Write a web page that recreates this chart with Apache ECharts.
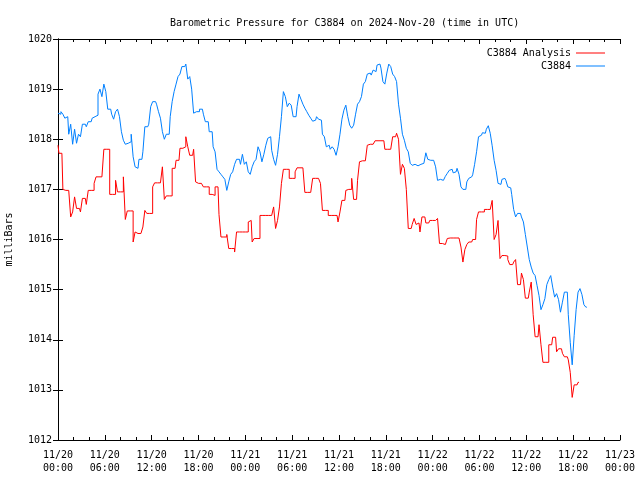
<!DOCTYPE html>
<html>
<head>
<meta charset="utf-8">
<script src="https://cdn.jsdelivr.net/npm/echarts@6/dist/echarts.min.js"></script>
<style>html,body{margin:0;padding:0;background:#fff;}#c{width:640px;height:480px;}</style>
</head>
<body>
<div id="c"></div>
<script>
// Sampling step of the traces, in hours (15 minutes), starting 2024-11-20 00:00 UTC
const STEP_H = 0.25;
const seriesNames = ['C3884 Analysis', 'C3884'];
const xTicksHours = [0, 6, 12, 18, 24, 30, 36, 42, 48, 54, 60, 66, 72];
const yTicks = [1012, 1013, 1014, 1015, 1016, 1017, 1018, 1019, 1020];

const blueVals = [1018.52,1018.5,1018.55,1018.5,1018.42,1018.45,1018.1,1018.3,1017.9,1018.2,
1017.92,1018.1,1018.05,1018.3,1018.3,1018.25,1018.35,1018.35,1018.42,1018.45,
1018.48,1018.9,1019.0,1018.85,1019.1,1018.95,1018.6,1018.6,1018.5,1018.4,
1018.55,1018.6,1018.45,1018.15,1017.98,1017.9,1017.92,1017.95,1018.1,1017.65,
1017.45,1017.42,1017.6,1017.6,1017.75,1018.25,1018.25,1018.3,1018.65,1018.75,
1018.75,1018.7,1018.55,1018.42,1018.15,1018.0,1018.1,1018.1,1018.45,1018.75,
1018.95,1019.1,1019.25,1019.3,1019.45,1019.45,1019.5,1019.2,1019.25,1019.0,
1018.52,1018.55,1018.55,1018.6,1018.6,1018.5,1018.35,1018.35,1018.15,1018.15,
1017.85,1017.75,1017.4,1017.35,1017.3,1017.25,1017.2,1016.98,1017.15,1017.3,
1017.35,1017.5,1017.6,1017.6,1017.5,1017.7,1017.5,1017.55,1017.35,1017.3,
1017.45,1017.55,1017.6,1017.85,1017.75,1017.55,1017.7,1017.88,1018.02,1018.05,
1017.78,1017.6,1017.48,1017.7,1018.05,1018.45,1018.95,1018.85,1018.65,1018.72,
1018.68,1018.45,1018.45,1018.65,1018.9,1018.8,1018.7,1018.62,1018.55,1018.48,
1018.42,1018.36,1018.38,1018.45,1018.4,1018.38,1018.1,1018.05,1017.85,1017.88,
1017.8,1017.85,1017.8,1017.68,1017.85,1018.1,1018.4,1018.58,1018.68,1018.45,
1018.28,1018.22,1018.28,1018.5,1018.7,1018.75,1018.85,1019.1,1019.15,1019.3,
1019.32,1019.28,1019.38,1019.35,1019.48,1019.5,1019.42,1019.15,1019.1,1019.32,
1019.5,1019.45,1019.3,1019.25,1019.15,1018.7,1018.42,1018.1,1017.98,1017.82,
1017.75,1017.52,1017.48,1017.5,1017.47,1017.48,1017.5,1017.52,1017.5,1017.73,
1017.6,1017.58,1017.58,1017.56,1017.45,1017.18,1017.2,1017.18,1017.2,1017.26,
1017.32,1017.38,1017.4,1017.33,1017.35,1017.42,1017.3,1017.05,1017.0,1017.0,
1017.15,1017.22,1017.25,1017.29,1017.5,1017.75,1018.05,1018.08,1018.13,1018.12,
1018.2,1018.27,1018.12,1017.87,1017.58,1017.38,1017.12,1017.1,1017.2,1017.22,
1017.18,1017.05,1017.03,1016.9,1016.6,1016.45,1016.52,1016.52,1016.45,1016.35,
1016.1,1015.85,1015.6,1015.45,1015.33,1015.28,1015.08,1014.88,1014.6,1014.7,
1014.82,1015.1,1015.2,1015.28,1015.05,1014.85,1014.92,1014.8,1014.55,1014.75,
1014.95,1014.95,1014.5,1013.95,1013.5,1014.08,1014.6,1014.95,1015.02,1014.9,
1014.7,1014.65];

const redVals = [1017.88,1017.72,1017.72,1017.0,1016.98,1016.98,1016.98,1016.45,1016.55,1016.85,
1016.62,1016.62,1016.55,1016.82,1016.82,1016.7,1016.98,1016.98,1016.98,1017.12,
1017.25,1017.25,1017.25,1017.25,1017.8,1017.8,1017.8,1016.9,1016.9,1016.9,
1017.18,1016.95,1016.95,1016.95,1017.25,1016.4,1016.57,1016.57,1016.57,1015.95,
1016.15,1016.12,1016.12,1016.12,1016.25,1016.58,1016.52,1016.52,1016.52,1017.05,
1017.13,1017.13,1017.13,1017.13,1017.45,1016.8,1016.87,1016.87,1016.87,1017.42,
1017.42,1017.58,1017.58,1017.82,1017.82,1017.85,1018.05,1017.85,1017.68,1017.68,
1017.8,1017.15,1017.12,1017.12,1017.12,1017.05,1017.05,1017.05,1016.9,1016.9,
1016.88,1017.05,1017.05,1016.5,1016.05,1016.05,1016.05,1016.1,1015.82,1015.82,
1015.82,1015.75,1016.15,1016.15,1016.15,1016.15,1016.15,1016.15,1016.35,1016.38,
1015.95,1016.02,1016.02,1016.02,1016.48,1016.48,1016.48,1016.48,1016.48,1016.48,
1016.48,1016.65,1016.22,1016.38,1016.65,1017.12,1017.4,1017.4,1017.4,1017.22,
1017.22,1017.22,1017.35,1017.43,1017.43,1017.43,1017.43,1016.94,1016.94,1016.94,
1016.94,1017.22,1017.22,1017.22,1017.22,1017.12,1016.58,1016.58,1016.58,1016.48,
1016.48,1016.48,1016.48,1016.48,1016.35,1016.55,1016.78,1016.78,1016.98,1017.0,
1017.0,1017.22,1016.8,1016.8,1017.18,1017.55,1017.57,1017.57,1017.57,1017.88,
1017.9,1017.9,1017.9,1017.97,1017.97,1017.97,1017.97,1017.97,1017.8,1017.8,
1017.8,1017.82,1018.05,1018.05,1018.12,1018.0,1017.3,1017.5,1017.42,1017.0,
1016.22,1016.22,1016.3,1016.42,1016.3,1016.33,1016.15,1016.45,1016.45,1016.33,
1016.33,1016.38,1016.38,1016.38,1016.38,1016.42,1015.92,1015.92,1015.9,1015.9,
1016.02,1016.03,1016.03,1016.03,1016.03,1016.03,1016.03,1015.85,1015.55,1015.8,
1015.9,1015.95,1015.95,1016.0,1016.0,1016.4,1016.55,1016.55,1016.55,1016.6,
1016.6,1016.6,1016.63,1016.78,1016.0,1016.1,1016.38,1015.62,1015.68,1015.68,
1015.67,1015.6,1015.5,1015.5,1015.55,1015.6,1015.1,1015.1,1015.33,1015.2,
1014.83,1014.83,1014.95,1015.15,1014.5,1014.06,1014.06,1014.3,1013.9,1013.55,
1013.55,1013.55,1013.9,1013.9,1014.05,1014.05,1013.76,1013.82,1013.82,1013.73,
1013.66,1013.66,1013.6,1013.35,1012.85,1013.1,1013.1,1013.15];

const FONT = 'DejaVu Sans Mono';
const pad = n => (n < 10 ? '0' : '') + n;
function xLabel(v) {
  const day = 20 + Math.floor(v / 24);
  const hr = Math.round(v % 24);
  return '11/' + day + '\n' + pad(hr) + ':00';
}

const toPairs = arr => arr.map((v, i) => [i * STEP_H, v]);

const baseX = {
  type: 'value', min: xTicksHours[0], max: xTicksHours[xTicksHours.length - 1], interval: 6,
  axisLine: { show: true, lineStyle: { color: '#000', width: 1 } },
  axisTick: { show: true, inside: true, length: 5, lineStyle: { color: '#000' } },
  minorTick: { show: true, splitNumber: 3, length: 3, lineStyle: { color: '#000' } },
  splitLine: { show: false }
};
const baseY = {
  type: 'value', min: yTicks[0], max: yTicks[yTicks.length - 1], interval: 1,
  axisLine: { show: true, lineStyle: { color: '#000', width: 1 } },
  axisTick: { show: true, inside: true, length: 5, lineStyle: { color: '#000' } },
  splitLine: { show: false }
};

const chart = echarts.init(document.getElementById('c'), null, { renderer: 'canvas' });
chart.setOption({
  animation: false,
  backgroundColor: '#fff',
  title: {
    text: 'Barometric Pressure for C3884 on 2024-Nov-20 (time in UTC)',
    left: 165, top: 13,
    textStyle: { fontFamily: FONT, fontSize: 10, fontWeight: 'normal', color: '#000' }
  },
  legend: [
    { data: [seriesNames[0]], right: 30, top: 43, align: 'right', itemWidth: 29, itemHeight: 1,
      icon: 'rect', textStyle: { fontFamily: FONT, fontSize: 10, color: '#000' } },
    { data: [seriesNames[1]], right: 30, top: 56, align: 'right', itemWidth: 29, itemHeight: 1,
      icon: 'rect', textStyle: { fontFamily: FONT, fontSize: 10, color: '#000' } }
  ],
  grid: { left: 58, right: 20, top: 39, bottom: 40, outerBoundsMode: 'none', containLabel: false },
  xAxis: [
    Object.assign({}, baseX, {
      position: 'bottom',
      axisLabel: { formatter: xLabel, color: '#000', fontFamily: FONT, fontSize: 10, margin: 9, lineHeight: 13 }
    }),
    Object.assign({}, baseX, { position: 'top', axisLabel: { show: false } })
  ],
  yAxis: [
    Object.assign({}, baseY, {
      position: 'left',
      name: 'milliBars', nameLocation: 'middle', nameGap: 44, nameRotate: 90,
      nameTextStyle: { fontFamily: FONT, fontSize: 10, color: '#000' },
      axisLabel: { color: '#000', fontFamily: FONT, fontSize: 10, margin: 6, formatter: v => String(v) }
    }),
    Object.assign({}, baseY, { position: 'right', axisLabel: { show: false } })
  ],
  series: [
    { name: seriesNames[0], type: 'line', data: toPairs(redVals), step: 'middle',
      showSymbol: false, symbol: 'none', color: '#ff0000',
      lineStyle: { color: '#ff0000', width: 1 }, z: 2 },
    { name: seriesNames[1], type: 'line', data: toPairs(blueVals), step: 'middle',
      showSymbol: false, symbol: 'none', color: '#0080ff',
      lineStyle: { color: '#0080ff', width: 1 }, z: 3 }
  ]
});
</script>
</body>
</html>
